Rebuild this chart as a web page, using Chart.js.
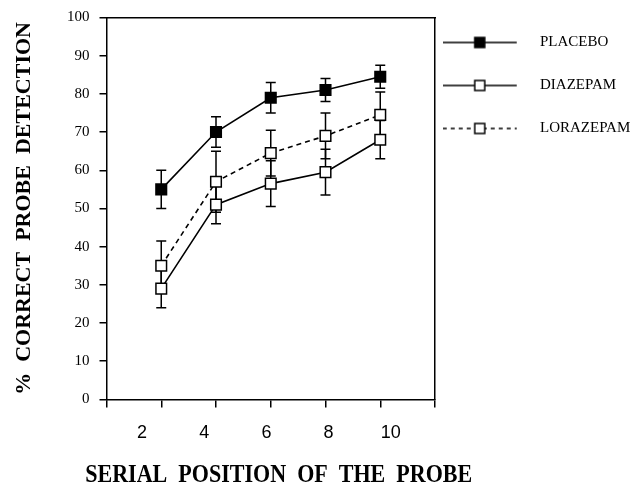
<!DOCTYPE html>
<html>
<head>
<meta charset="utf-8">
<script src="https://cdn.jsdelivr.net/npm/chart.js@4.4.1/dist/chart.umd.min.js"></script>
<style>
    html, body { margin: 0; padding: 0; background: #fff; }
</style>
</head>
<body>
<canvas id="chart" width="639" height="489"></canvas>
<script>
// serial position of the probe
const positions = [2, 4, 6, 8, 10]
const positionLabels = ['2', '4', '6', '8', '10']
const xTicks = [0, 2, 4, 6, 8, 10, 12]
const yTicks = [0, 10, 20, 30, 40, 50, 60, 70, 80, 90, 100]

// % correct probe detection, with error bar half-lengths
const placebo = [55, 70, 79, 81, 84.5]
const placeboErr = [5, 4, 4, 3, 3]
const diazepam = [29, 51, 56.5, 59.5, 68]
const diazepamErr = [5, 5, 6, 6, 5]
const lorazepam = [35, 57, 64.5, 69, 74.5]
const lorazepamErr = [6.5, 8, 6, 6, 6]

const SERIF = "'Liberation Serif', 'Times New Roman', serif"
const SANS = "'Liberation Sans', Arial, sans-serif"

function points(values){
    return positions.map((p, i) => ({x: p, y: values[i]}))
}

// little line + square sample for the legend
function legendSample(filled, dashed){
    const c = document.createElement('canvas')
    c.width = 110
    c.height = 16
    const g = c.getContext('2d')
    g.strokeStyle = '#000'
    g.lineWidth = 1.5
    if(dashed) g.setLineDash([4, 4])
    g.beginPath()
    g.moveTo(0, 8)
    g.lineTo(74, 8)
    g.stroke()
    g.setLineDash([])
    g.fillStyle = filled ? '#000' : '#fff'
    g.fillRect(32, 3, 10, 10)
    g.strokeRect(32, 3, 10, 10)
    return c
}

const errorBars = {
    id: 'errorBars',
    beforeDatasetsDraw(chart){
        const {ctx, scales} = chart
        ctx.save()
        ctx.strokeStyle = '#000'
        ctx.lineWidth = 1.5
        chart.data.datasets.forEach((ds) => {
            ds.data.forEach((pt, i) => {
                const err = ds.errors[i]
                const px = scales.x.getPixelForValue(pt.x)
                const top = scales.y.getPixelForValue(pt.y + err)
                const bot = scales.y.getPixelForValue(pt.y - err)
                ctx.beginPath()
                ctx.moveTo(px, top)
                ctx.lineTo(px, bot)
                ctx.moveTo(px - 5, top)
                ctx.lineTo(px + 5, top)
                ctx.moveTo(px - 5, bot)
                ctx.lineTo(px + 5, bot)
                ctx.stroke()
            })
        })
        ctx.restore()
    }
}

// the x title is wider than the plot, so the axis title (clipped to plot width) can't be used
const bottomTitle = {
    id: 'bottomTitle',
    afterDraw(chart, args, opts){
        const ctx = chart.ctx
        const cx = (chart.chartArea.left + chart.chartArea.right) / 2 + opts.shift
        ctx.save()
        ctx.font = opts.font
        ctx.fillStyle = '#000'
        ctx.textAlign = 'center'
        ctx.textBaseline = 'middle'
        ctx.fillText(opts.text, cx, opts.y, opts.maxWidth)
        ctx.restore()
    }
}

const samples = [legendSample(true, false), legendSample(false, false), legendSample(false, true)]

function series(label, values, errors, filled, dashed){
    return {
        label: label,
        data: points(values),
        errors: errors,
        borderColor: '#000',
        borderWidth: 1.6,
        borderDash: dashed ? [5, 4] : [],
        tension: 0,
        fill: false,
        pointStyle: 'rect',
        pointRadius: 7.5,
        pointHoverRadius: 7.5,
        pointBackgroundColor: filled ? '#000' : '#fff',
        pointBorderColor: '#000',
        pointBorderWidth: 1.5,
    }
}

new Chart(document.getElementById('chart'), {
    type: 'line',
    data: {
        datasets: [
            series('PLACEBO', placebo, placeboErr, true, false),
            series('DIAZEPAM', diazepam, diazepamErr, false, false),
            series('LORAZEPAM', lorazepam, lorazepamErr, false, true),
        ]
    },
    plugins: [errorBars, bottomTitle],
    options: {
        responsive: false,
        devicePixelRatio: 1,
        animation: false,
        layout: {padding: {top: 7, right: 0, bottom: 30, left: 0}},
        plugins: {
            tooltip: {enabled: false},
            bottomTitle: {
                text: 'SERIAL  POSITION  OF  THE  PROBE',
                font: "bold 25px " + SERIF,
                shift: 8,
                y: 476,
                maxWidth: 387
            },
            legend: {
                position: 'right',
                align: 'start',
                maxWidth: 204,
                labels: {
                    usePointStyle: true,
                    pointStyleWidth: 69.5,
                    padding: 28,
                    color: '#000',
                    font: {family: SERIF, size: 15},
                    generateLabels(chart){
                        const items = Chart.defaults.plugins.legend.labels.generateLabels(chart)
                        items.forEach((it) => { it.pointStyle = samples[it.datasetIndex] })
                        return items
                    }
                }
            }
        },
        scales: {
            x: {
                type: 'linear',
                position: 'bottom',
                weight: 0,
                min: 0,
                max: 12,
                afterBuildTicks: (axis) => { axis.ticks = xTicks.map((v) => ({value: v})) },
                ticks: {display: false},
                grid: {drawOnChartArea: false, tickLength: 8, color: '#000', lineWidth: 1.5},
                border: {color: '#000', width: 1.5}
            },
            xLabels: {
                type: 'linear',
                position: 'bottom',
                weight: 1,
                display: true,
                min: 0.86,
                max: 11.42,
                afterBuildTicks: (axis) => { axis.ticks = positions.map((v) => ({value: v})) },
                ticks: {
                    callback: (v, i) => positionLabels[i],
                    font: {family: SANS, size: 18},
                    color: '#000',
                    padding: 15,
                    maxRotation: 0,
                    autoSkip: false
                },
                grid: {display: false, drawTicks: false, tickLength: 0},
                border: {display: false}
            },
            x2: {
                type: 'linear',
                position: 'top',
                display: true,
                min: 0,
                max: 12,
                ticks: {display: false},
                grid: {display: false, drawTicks: false},
                border: {color: '#000', width: 1.5}
            },
            y: {
                min: 0,
                max: 100,
                afterBuildTicks: (axis) => { axis.ticks = yTicks.map((v) => ({value: v})) },
                ticks: {font: {family: SERIF, size: 15, lineHeight: 1}, color: '#000', padding: 10},
                grid: {drawOnChartArea: false, tickLength: 7, color: '#000', lineWidth: 1.5},
                border: {color: '#000', width: 1.5},
                title: {
                    display: true,
                    text: '%  CORRECT  PROBE  DETECTION',
                    color: '#000',
                    font: {family: SERIF, size: 22, weight: 'bold'},
                    padding: {top: 11, bottom: 27}
                }
            },
            y2: {
                position: 'right',
                display: true,
                min: 0,
                max: 100,
                ticks: {display: false},
                grid: {display: false, drawTicks: false},
                border: {color: '#000', width: 1.5}
            }
        }
    }
})
</script>
</body>
</html>
